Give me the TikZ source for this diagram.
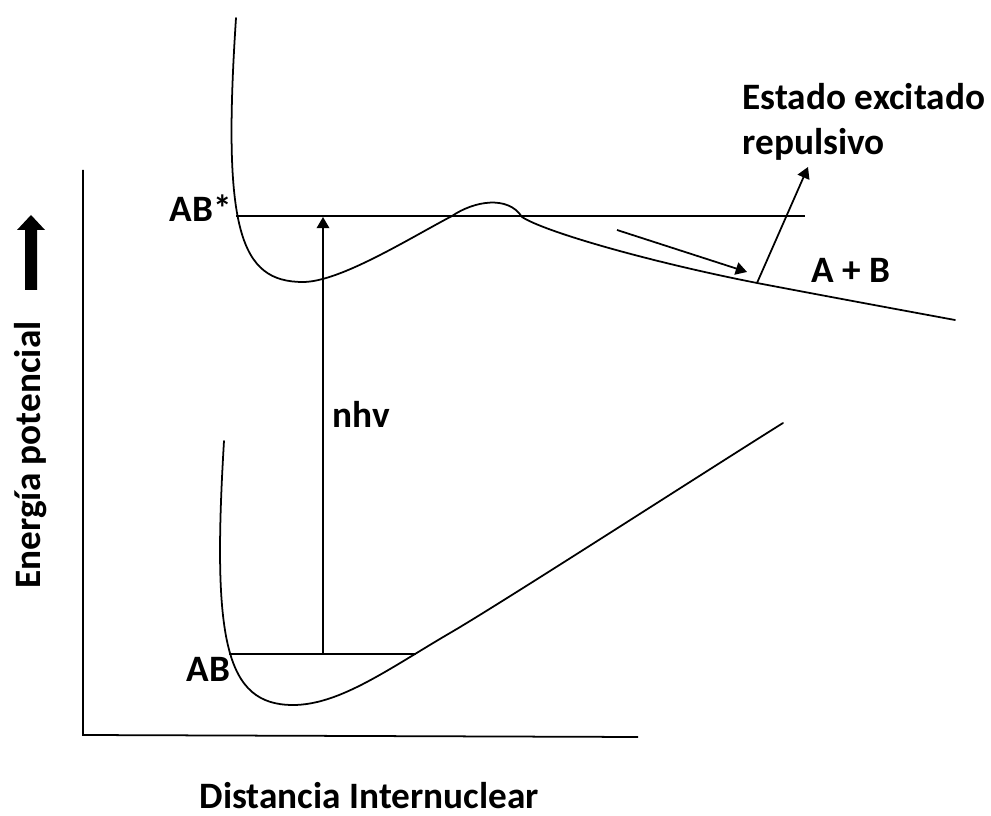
\documentclass[tikz,border=0pt]{standalone}
\usepackage{fontspec}
\setmainfont{Carlito}
\usetikzlibrary{arrows.meta}
\begin{document}
\begin{tikzpicture}[x=0.01cm,y=-0.01cm,
  lbl/.style={inner sep=0pt,font=\fontsize{10.6pt}{12.8pt}\selectfont\bfseries},
  curve/.style={line width=0.5pt,line cap=round,line join=round},
  thin/.style={line width=0.5pt},
  arr/.style={line width=0.5pt,-{Triangle[length=3.2pt,width=3.6pt]}}]
\useasboundingbox (0,0) rectangle (991,816);

% axes
\coordinate (ytop) at (83,170);
\coordinate (orig) at (83,735);
\coordinate (xend) at (638,737);
\draw[thin] (ytop) -- (orig) -- (xend);

% thick energy arrow
\fill (25,290) -- (37,290) -- (37,230) -- (45,230) -- (31,215) -- (17,230) -- (25,230) -- cycle;

% excited state curve
\draw[curve] (236,18) .. controls (222,230) and (240,282) .. (303,282)
  .. controls (340,282) and (410,238) .. (452,216)
  .. controls (474,201) and (508,195) .. (522,217)
  .. controls (545,232) and (650,262) .. (757,283)
  .. controls (820,295) and (890,308) .. (955,320);

% ground state curve
\draw[curve] (224,441) .. controls (212,640) and (225,705) .. (293,705)
  .. controls (340,705) and (390,668) .. (450,633)
  .. controls (500,604) and (700,475) .. (783,423);

% levels
\coordinate (exL) at (236,216);
\coordinate (exR) at (805,216);
\coordinate (gsL) at (229,654);
\coordinate (gsR) at (416,654);
\draw[thin] (exL) -- (exR);
\draw[thin] (gsL) -- (gsR);

% excitation arrow
\coordinate (vb) at (323,654);
\coordinate (vt) at (323,217);
\draw[arr] (vb) -- (vt);

% dissociation arrow
\coordinate (da) at (617,230);
\coordinate (db) at (747,272);
\draw[arr] (da) -- (db);

% repulsive state arrow
\coordinate (ra) at (757,283);
\coordinate (rb) at (808,167);
\draw[arr] (ra) -- (rb);

% labels
\node[lbl,anchor=base,rotate=90] (ep) at (41,455) {Energía potencial};
\node[lbl,anchor=base west] (di) at (199,808) {Distancia Internuclear};
\node[lbl,anchor=base west] (abs) at (169,222) {AB*};
\node[lbl,anchor=base west] (ab) at (186,682) {AB};
\node[lbl,anchor=base west] (nhv) at (332,428) {nhv};
\node[lbl,anchor=base west] (apb) at (811,283) {A + B};
\node[lbl,anchor=base west] (ee1) at (742,110) {Estado excitado};
\node[lbl,anchor=base west] (ee2) at (742,155) {repulsivo};
\end{tikzpicture}
\end{document}
